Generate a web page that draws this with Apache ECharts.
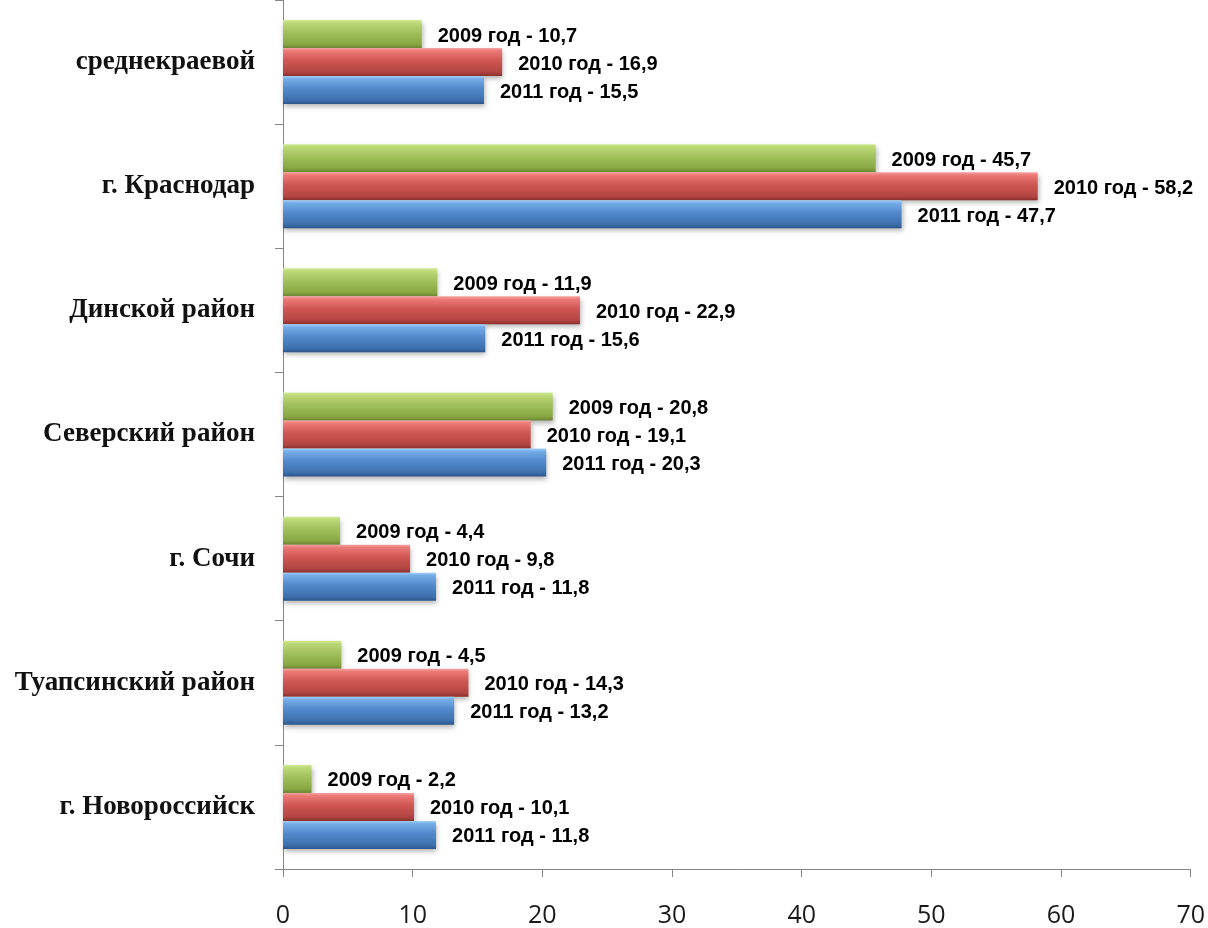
<!DOCTYPE html>
<html><head><meta charset="utf-8">
<script src="https://cdn.jsdelivr.net/npm/echarts@6/dist/echarts.min.js"></script>
<style>html,body{margin:0;padding:0;background:#fff}#c{width:1208px;height:928px}</style>
</head><body><div id="c"></div>
<script>
const categories = ['среднекраевой','г. Краснодар','Динской район','Северский район','г. Сочи','Туапсинский район','г. Новороссийск'];
const seriesNames = ['2009 год','2010 год','2011 год'];
const v2009 = [10.7, 45.7, 11.9, 20.8, 4.4, 4.5, 2.2];
const v2010 = [16.9, 58.2, 22.9, 19.1, 9.8, 14.3, 10.1];
const v2011 = [15.5, 47.7, 15.6, 20.3, 11.8, 13.2, 11.8];
const xTicks = [0,10,20,30,40,50,60,70];

function grad(stops){
  return new echarts.graphic.LinearGradient(0,0,0,1, stops.map(c=>({offset:c[0],color:c[1]})));
}
const fills = [
  grad([[0,'#d2ea95'],[0.1,'#bcd978'],[0.45,'#a0c05c'],[0.85,'#88a843'],[1,'#6b8631']]),
  grad([[0,'#f7a4a2'],[0.1,'#ec7a77'],[0.45,'#cf5652'],[0.85,'#b34542'],[1,'#8a2f2d']]),
  grad([[0,'#a3cff7'],[0.1,'#75ade9'],[0.45,'#5289cb'],[0.85,'#3e70ae'],[1,'#2c568b']])
];
const data = [v2009, v2010, v2011];

const chart = echarts.init(document.getElementById('c'));
chart.setOption({
  animation:false,
  grid:{left:283, right:17, top:-3, bottom:55, containLabel:false},
  xAxis:{type:'value', min:0, max:70, interval:10,
    axisLine:{show:true, lineStyle:{color:'#868686', width:1}},
    axisTick:{show:true, length:8, lineStyle:{color:'#868686'}},
    splitLine:{show:false},
    axisLabel:{margin:34, fontSize:25, color:'#1a1a1a', fontFamily:'Open Sans, Liberation Sans, sans-serif',
      formatter:v=>xTicks.includes(v)?String(v):''}
  },
  yAxis:{type:'category', data:categories, inverse:true,
    axisLine:{show:true, lineStyle:{color:'#868686', width:1}},
    axisTick:{show:true, length:8, alignWithLabel:false, lineStyle:{color:'#868686'}},
    axisLabel:{margin:28, fontSize:27, fontWeight:'bold', color:'#111', fontFamily:'Liberation Serif, serif'}
  },
  series: seriesNames.map((name,i)=>({
    name, type:'bar', data:data[i], barWidth:28, barGap:'0%', barCategoryGap:'33%',
    itemStyle:{color:fills[i], shadowBlur:5, shadowOffsetY:3, shadowOffsetX:1, shadowColor:'rgba(0,0,0,0.3)'},
    label:{show:true, position:'right', distance:16, offset:[0,2], fontSize:20, fontWeight:'bold', color:'#000',
      fontFamily:'Liberation Sans, Arial, sans-serif',
      formatter:p=>name+' - '+String(p.value).replace('.',',')}
  }))
});
</script></body></html>
